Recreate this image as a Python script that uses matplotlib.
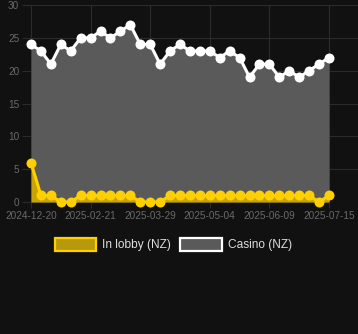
import matplotlib
matplotlib.use("Agg")
import matplotlib.pyplot as plt
from matplotlib.patches import Rectangle

casino = [24, 23, 21, 24, 23, 25, 25, 26, 25, 26, 27, 24, 24, 21, 23, 24,
          23, 23, 23, 22, 23, 22, 19, 21, 21, 19, 20, 19, 20, 21, 22]
lobby = [6, 1, 1, 0, 0, 1, 1, 1, 1, 1, 1, 0, 0, 0, 1, 1,
         1, 1, 1, 1, 1, 1, 1, 1, 1, 1, 1, 1, 1, 0, 1]
tick_labels = ["2024-12-20", "2025-02-21", "2025-03-29",
               "2025-05-04", "2025-06-09", "2025-07-15"]
tick_idx = [0, 6, 12, 18, 24, 30]
y_ticks = [0, 5, 10, 15, 20, 25, 30]
series_names = ["In lobby (NZ)", "Casino (NZ)"]

BG = "#111111"
GRID = "#2b2b2b"
TXT = "#6a6a6a"
GOLD = "#FFD000"
GOLD_FILL = "#C9A300"
GOLD_LEG = "#B8980C"
GRAY_FILL = "#5a5a5a"

W, H = 358, 334
fig = plt.figure(figsize=(W / 100, H / 100), dpi=100, facecolor=BG)
L, R, B, T = 31, 358, 202, 5
ax = fig.add_axes([L / W, 1 - B / H, (R - L) / W, (B - T) / H])
ax.set_facecolor(BG)

x = list(range(len(casino)))
pxu = (329 - 31) / 30
ax.set_xlim(0, (R - L) / pxu)
ax.set_ylim(0, 30)

ax.fill_between(x, 0, casino, color=GRAY_FILL, lw=0, zorder=2)
ax.plot(x, casino, color="white", lw=2.2, marker="o", ms=7.2,
        markeredgewidth=0, zorder=3, clip_on=False)
ax.fill_between(x, 0, lobby, color=GOLD_FILL, lw=0, zorder=4)
ax.plot(x, lobby, color=GOLD, lw=2.2, marker="o", ms=7.2,
        markeredgewidth=0, zorder=5, clip_on=False)

ax.set_yticks(y_ticks)
ax.set_xticks(tick_idx)
ax.set_xticklabels(tick_labels)
ax.grid(True, color=GRID, lw=0.8, zorder=1)
for s in ax.spines.values():
    s.set_visible(False)
ax.tick_params(axis="y", length=6.5, color=GRID, width=0.8, pad=2,
               labelsize=7.2, labelcolor=TXT)
ax.tick_params(axis="x", length=4.3, color=GRID, width=0.8, pad=2.5,
               labelsize=7.2, labelcolor=TXT)
for lab in ax.get_xticklabels() + ax.get_yticklabels():
    lab.set_fontfamily("Liberation Sans")

# legend
def box(x0, x1, y0, y1, fc, ec):
    fig.add_artist(Rectangle((x0 / W, 1 - y1 / H), (x1 - x0) / W, (y1 - y0) / H,
                             transform=fig.transFigure, facecolor=fc,
                             edgecolor=ec, lw=1.6))

box(55.5, 96, 238, 251, GOLD_LEG, GOLD)
fig.text(102.5 / W, 1 - 245 / H, series_names[0], color="#dddddd",
         fontsize=8.6, va="center", ha="left", family="Liberation Sans")
box(180, 222.5, 238, 251, GRAY_FILL, "white")
fig.text(227.5 / W, 1 - 245 / H, series_names[1], color="#dddddd",
         fontsize=8.6, va="center", ha="left", family="Liberation Sans")

fig.savefig("out.png", dpi=100, facecolor=BG)
